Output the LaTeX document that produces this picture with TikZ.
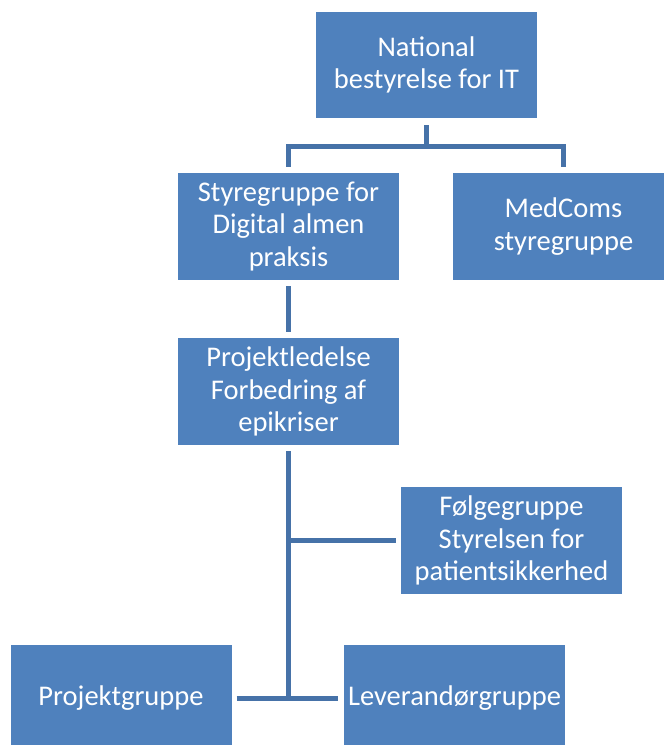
\documentclass[tikz,border=0pt]{standalone}
\usepackage{fontspec}
\setmainfont{Carlito}
\definecolor{boxblue}{HTML}{4F81BD}
\definecolor{lineblue}{HTML}{4672A8}
\begin{document}
\begin{tikzpicture}[x=1pt,y=1pt,
  orgbox/.style={rectangle, fill=boxblue, draw=none, inner sep=0pt,
    minimum width=221pt, minimum height=107pt, text=white, align=center,
    font=\fontsize{28.5}{32.5}\selectfont},
  conn/.style={draw=lineblue, line width=5pt, line join=miter}]
\useasboundingbox (0,0) rectangle (664,-745);
\clip (0,0) rectangle (664,-745);
\node[orgbox, minimum height=106pt] (nat) at (426.5,-65) {National\\bestyrelse for IT};
\node[orgbox] (sty) at (288.5,-226.5) {Styregruppe for\\Digital almen\\praksis};
\node[orgbox] (med) at (563.5,-226.5) {MedComs\\styregruppe};
\node[orgbox] (proj) at (288.5,-391.5) {Projektledelse\\Forbedring af\\epikriser};
\node[orgbox] (folg) at (511.5,-540.5) {Følgegruppe\\Styrelsen for\\patientsikkerhed};
\node[orgbox] (pg) at (121,-698.5) {Projektgruppe};
\node[orgbox] (lev) at (454.5,-698.5) {Leverandørgruppe};
\coordinate (j1) at (426.5,-146);
\coordinate (j3) at (288.5,-700);
\draw[conn] ([yshift=-7pt]nat.south) -- (j1);
\draw[conn] ([yshift=6pt]sty.north) -- (sty.north |- j1) -- (med.north |- j1) -- ([yshift=6pt]med.north);
\draw[conn] ([yshift=-6pt]sty.south) -- ([yshift=6pt]proj.north);
\draw[conn] ([yshift=-6pt]proj.south) -- (j3);
\draw[conn] (proj.south |- folg.west) -- ([xshift=-5pt]folg.west);
\draw[conn] ([xshift=5pt]pg.east |- 0,-698) -- ([xshift=-6pt]lev.west |- 0,-698);
\end{tikzpicture}
\end{document}
